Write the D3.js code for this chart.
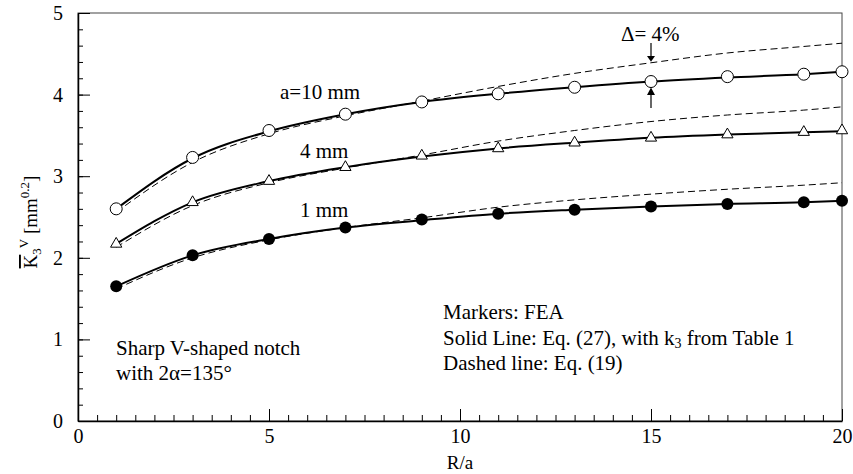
<!DOCTYPE html>
<html><head><meta charset="utf-8">
<script src="https://cdn.jsdelivr.net/npm/d3@7"></script>
<style>
body{margin:0;background:#fff;}
svg{display:block;font-family:"Liberation Serif","DejaVu Serif",serif;}
</style></head>
<body><svg id="chart" width="853" height="474"></svg>
<script>
// ---- data ----
const rOverA = [1, 3, 5, 7, 9, 11, 13, 15, 17, 19, 20];
const fea10 = [2.60, 3.23, 3.56, 3.76, 3.91, 4.01, 4.09, 4.16, 4.22, 4.25, 4.28];
const fea4  = [2.17, 2.68, 2.94, 3.11, 3.25, 3.34, 3.41, 3.47, 3.51, 3.54, 3.56];
const fea1  = [1.65, 2.03, 2.23, 2.37, 2.47, 2.54, 2.59, 2.63, 2.66, 2.68, 2.70];
const eq27_10 = [2.60, 3.22, 3.55, 3.76, 3.91, 4.01, 4.09, 4.16, 4.21, 4.25, 4.28];
const eq27_4  = [2.17, 2.68, 2.94, 3.11, 3.24, 3.34, 3.41, 3.47, 3.51, 3.54, 3.55];
const eq27_1  = [1.65, 2.03, 2.23, 2.37, 2.46, 2.54, 2.59, 2.63, 2.66, 2.68, 2.70];
const eq19_10 = [2.56, 3.17, 3.52, 3.74, 3.92, 4.10, 4.26, 4.39, 4.51, 4.59, 4.63];
const eq19_4  = [2.13, 2.64, 2.92, 3.10, 3.26, 3.43, 3.56, 3.67, 3.75, 3.81, 3.85];
const eq19_1  = [1.62, 2.00, 2.22, 2.37, 2.49, 2.62, 2.71, 2.78, 2.84, 2.89, 2.92];
const xTicks = [0, 5, 10, 15, 20];
const yTicks = [0, 1, 2, 3, 4, 5];
const curveLabels = ["a=10 mm", "4 mm", "1 mm"];
const legendLines = ["Markers: FEA", "Solid Line: Eq. (27), with k", "Dashed line: Eq. (19)"];
const notchLines = ["Sharp V-shaped notch", "with 2\u03B1=135\u00B0"];
const deltaLabel = "\u0394= 4%";

// ---- layout ----
const svg = d3.select("#chart");
const x = d3.scaleLinear().domain([0, 20]).range([78, 842]);
const y = d3.scaleLinear().domain([0, 5]).range([421, 13]);
const tfs = 20, fs = 21;

// frame
svg.append("rect").attr("x", x(0)).attr("y", y(5)).attr("width", x(20) - x(0)).attr("height", y(0) - y(5))
  .attr("fill", "none").attr("stroke", "#444").attr("stroke-width", 1);

// axes
const gx = svg.append("g").attr("transform", `translate(0,${y(0)})`);
gx.call(d3.axisBottom(x).tickValues(d3.range(0, 20.01, 0.5)).tickSizeInner(-6).tickSizeOuter(0).tickFormat(""));
gx.call(g => g.select(".domain").attr("stroke", "#000").attr("stroke-width", 1.5));
gx.selectAll(".tick line").attr("stroke", "#000");
const gx2 = svg.append("g").attr("transform", `translate(0,${y(0)})`);
gx2.call(d3.axisBottom(x).tickValues(xTicks).tickSizeInner(-12).tickSizeOuter(0).tickPadding(8).tickFormat(d3.format("d")));
gx2.select(".domain").remove();
gx2.selectAll(".tick line").attr("stroke", "#000");
gx2.selectAll("text").attr("font-size", tfs).attr("font-family", "Liberation Serif").attr("fill", "#000");

const gy = svg.append("g").attr("transform", `translate(${x(0)},0)`);
gy.call(d3.axisLeft(y).tickValues(d3.range(0, 5.001, 0.2)).tickSizeInner(-5).tickSizeOuter(0).tickFormat(""));
gy.call(g => g.select(".domain").attr("stroke", "#000").attr("stroke-width", 1.5));
gy.selectAll(".tick line").attr("stroke", "#000");
const gy2 = svg.append("g").attr("transform", `translate(${x(0)},0)`);
gy2.call(d3.axisLeft(y).tickValues(yTicks).tickSizeInner(-12).tickSizeOuter(0).tickPadding(15).tickFormat(d3.format("d")));
gy2.select(".domain").remove();
gy2.selectAll(".tick line").attr("stroke", "#000");
gy2.selectAll("text").attr("font-size", tfs).attr("font-family", "Liberation Serif").attr("fill", "#000");

// axis titles
svg.append("text").attr("x", x(10)).attr("y", 469).attr("text-anchor", "middle")
  .attr("font-size", 19).text("R/a");
const yl = svg.append("text").attr("transform", "translate(37,222) rotate(-90)").attr("text-anchor", "middle").attr("font-size", 19);
yl.append("tspan").attr("text-decoration", "overline").text("K");
yl.append("tspan").attr("font-size", 13).attr("dy", 4).text("3");
yl.append("tspan").attr("font-size", 13).attr("dy", -13).text("V");
yl.append("tspan").attr("dy", 9).text(" [mm");
yl.append("tspan").attr("font-size", 13).attr("dy", -8).text("0.2");
yl.append("tspan").attr("dy", 8).text("]");

// lines
const line = d3.line().x((d, i) => x(rOverA[i])).y(d => y(d)).curve(d3.curveMonotoneX);
[eq19_10, eq19_4, eq19_1].forEach(s => {
  svg.append("path").attr("d", line(s)).attr("fill", "none").attr("stroke", "#000")
    .attr("stroke-width", 1).attr("stroke-dasharray", "7,4");
});
[eq27_10, eq27_4, eq27_1].forEach(s => {
  svg.append("path").attr("d", line(s)).attr("fill", "none").attr("stroke", "#000").attr("stroke-width", 2);
});

// markers
svg.append("g").selectAll("circle").data(fea10).join("circle")
  .attr("cx", (d, i) => x(rOverA[i])).attr("cy", d => y(d)).attr("r", 6)
  .attr("fill", "#fff").attr("stroke", "#000").attr("stroke-width", 1);
const tri = d3.symbol().type(d3.symbolTriangle).size(55);
svg.append("g").selectAll("path").data(fea4).join("path")
  .attr("transform", (d, i) => `translate(${x(rOverA[i])},${y(d)})`).attr("d", tri)
  .attr("fill", "#fff").attr("stroke", "#000").attr("stroke-width", 1);
svg.append("g").selectAll("circle").data(fea1).join("circle")
  .attr("cx", (d, i) => x(rOverA[i])).attr("cy", d => y(d)).attr("r", 6)
  .attr("fill", "#000");

// curve labels
const labelPos = [[280, 99], [300, 158], [300, 217]];
curveLabels.forEach((t, i) => {
  svg.append("text").attr("x", labelPos[i][0]).attr("y", labelPos[i][1]).attr("font-size", fs).text(t);
});

// delta annotation
const ax = x(15);
svg.append("text").attr("x", 621).attr("y", 41).attr("font-size", fs).text(deltaLabel);
svg.append("line").attr("x1", ax).attr("x2", ax).attr("y1", 43).attr("y2", 57).attr("stroke", "#000").attr("stroke-width", 1.2);
svg.append("path").attr("d", `M${ax - 4},56 L${ax + 4},56 L${ax},${y(eq19_10[7]) - 1} Z`).attr("fill", "#000");
svg.append("line").attr("x1", ax).attr("x2", ax).attr("y1", 108).attr("y2", 94).attr("stroke", "#000").attr("stroke-width", 1.2);
svg.append("path").attr("d", `M${ax - 4},95 L${ax + 4},95 L${ax},${y(fea10[7]) + 6} Z`).attr("fill", "#000");

// legend text
const lg = svg.append("g").attr("font-size", fs);
legendLines.forEach((t, i) => {
  const tx = lg.append("text").attr("x", 443).attr("y", 319 + i * 25.5).text(t);
  if (i === 1) {
    tx.append("tspan").attr("font-size", 14).attr("dy", 3).text("3");
    tx.append("tspan").attr("dy", -3).text(" from Table 1");
  }
});
notchLines.forEach((t, i) => {
  svg.append("text").attr("x", 116).attr("y", 355 + i * 25).attr("font-size", fs).text(t);
});
</script></body></html>
